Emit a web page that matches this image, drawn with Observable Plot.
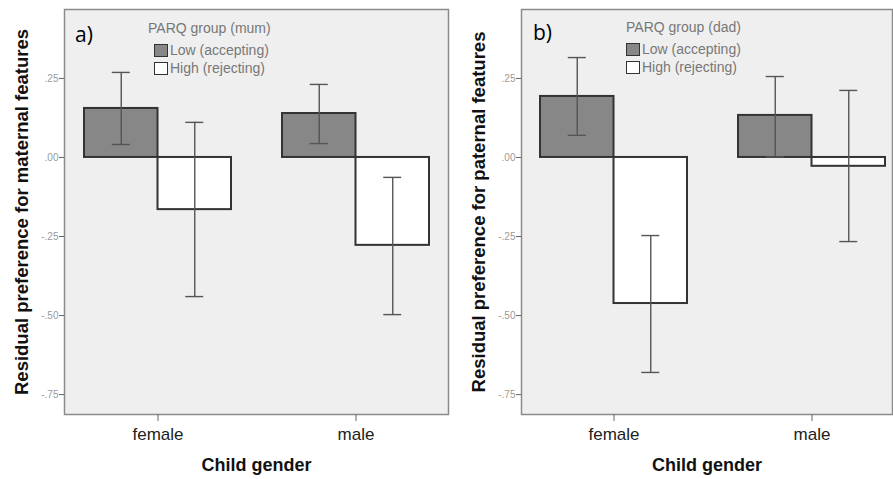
<!DOCTYPE html>
<html>
<head>
<meta charset="utf-8">
<script src="https://cdn.jsdelivr.net/npm/d3@7"></script>
<script src="https://cdn.jsdelivr.net/npm/@observablehq/plot@0.6"></script>
<style>
  html, body { margin: 0; padding: 0; background: #fff; }
  #wrap { position: relative; width: 893px; height: 479px; overflow: hidden; font-family: "Liberation Sans", Arial, sans-serif; }
  .panel { position: absolute; top: 0; }
  .tag { position: absolute; font-family: "Open Sans", sans-serif; font-size: 21px; line-height: 21px; color: #000; }
  .leg { position: absolute; font-size: 14px; color: #777; line-height: 18px; }
  .row { display: flex; align-items: center; height: 18px; }
  .sw { width: 12px; height: 11px; border: 1.5px solid #333; margin-right: 2px; box-sizing: content-box; }
</style>
</head>
<body>
<div id="wrap">
  <div id="pa" class="panel" style="left:0"></div>
  <div id="pb" class="panel" style="left:450px"></div>
</div>
<script>
// ---- data ----
const genders = ["female", "male"];
const groups = ["Low (accepting)", "High (rejecting)"];

// a) mother
const mumLowMean  = [0.155, 0.139];
const mumLowLo    = [0.041, 0.044];
const mumLowHi    = [0.269, 0.231];
const mumHighMean = [-0.165, -0.278];
const mumHighLo   = [-0.440, -0.497];
const mumHighHi   = [0.111, -0.063];

// b) father
const dadLowMean  = [0.193, 0.133];
const dadLowLo    = [0.070, 0.002];
const dadLowHi    = [0.316, 0.256];
const dadHighMean = [-0.462, -0.028];
const dadHighLo   = [-0.680, -0.266];
const dadHighHi   = [-0.247, 0.212];

const yTicks = [-0.75, -0.5, -0.25, 0, 0.25];
const fmt = v => (v < 0 ? "-" : "") + d3.format(".2f")(Math.abs(v)).replace(/^0/, "");

function rows(mean, lo, hi) {
  return genders.map((g, i) => ({gender: g, mean: mean[i], lo: lo[i], hi: hi[i]}));
}

const BW = 147;      // band width in px (two bars)
const STEP = 198;    // distance between gender centres
const CAP = 9;       // half cap width

function panel({width, marginLeft, marginRight, marginTop, align, low, high, ylabel}) {
  const W = width - marginLeft - marginRight;
  const pi = 1 - BW / STEP;
  const po = (W / STEP - (2 - pi)) / 2;
  const errStyle = {stroke: "#555", strokeWidth: 1.4};
  return Plot.plot({
    width, height: 479,
    marginLeft, marginRight, marginTop, marginBottom: 65,
    style: {fontFamily: "'Liberation Sans', Arial, sans-serif", background: "transparent", overflow: "visible"},
    x: {type: "band", domain: genders, paddingInner: pi, paddingOuter: po, align},
    y: {domain: [-0.813, 0.468]},
    marks: [
      Plot.frame({fill: "#efefef"}),
      Plot.barY(low, {x: "gender", y: "mean", insetRight: BW / 2, fill: "#878787", stroke: "#333", strokeWidth: 2}),
      Plot.barY(high, {x: "gender", y: "mean", insetLeft: BW / 2, fill: "#ffffff", stroke: "#333", strokeWidth: 2}),
      Plot.ruleX(low, {x: "gender", y1: "lo", y2: "hi", dx: -BW / 4, ...errStyle}),
      Plot.ruleX(high, {x: "gender", y1: "lo", y2: "hi", dx: BW / 4, ...errStyle}),
      Plot.tickY(low, {x: "gender", y: "hi", insetLeft: BW / 4 - CAP, insetRight: 3 * BW / 4 - CAP, ...errStyle}),
      Plot.tickY(low, {x: "gender", y: "lo", insetLeft: BW / 4 - CAP, insetRight: 3 * BW / 4 - CAP, ...errStyle}),
      Plot.tickY(high, {x: "gender", y: "hi", insetLeft: 3 * BW / 4 - CAP, insetRight: BW / 4 - CAP, ...errStyle}),
      Plot.tickY(high, {x: "gender", y: "lo", insetLeft: 3 * BW / 4 - CAP, insetRight: BW / 4 - CAP, ...errStyle}),
      Plot.frame({stroke: "#8a8a8a", strokeWidth: 1.5}),
      Plot.axisY({ticks: yTicks, tickFormat: fmt, tickSize: 5, tickPadding: 1, fontSize: 10, fill: "#9a9a9a", stroke: "#666", label: null}),
      Plot.axisY({ticks: [], label: ylabel, labelAnchor: "center", labelOffset: 50, labelArrow: "none", fontSize: 18.5, fontWeight: "bold", fill: "#111"}),
      Plot.axisX({tickSize: 7, tickPadding: 6, fontSize: 17, fill: "#222", stroke: "#666", label: null}),
      Plot.axisX({ticks: [], label: "Child gender", labelAnchor: "center", labelOffset: 56, labelArrow: "none", fontSize: 18, fontWeight: "bold", fill: "#111"})
    ]
  });
}

document.getElementById("pa").append(panel({
  width: 450, marginLeft: 64, marginRight: 2, marginTop: 9, align: 0.5,
  low: rows(mumLowMean, mumLowLo, mumLowHi),
  high: rows(mumHighMean, mumHighLo, mumHighHi),
  ylabel: "Residual preference for maternal features"
}));
document.getElementById("pb").append(panel({
  width: 443, marginLeft: 71, marginRight: 1, marginTop: 9, align: 0.73,
  low: rows(dadLowMean, dadLowLo, dadLowHi),
  high: rows(dadHighMean, dadHighLo, dadHighHi),
  ylabel: "Residual preference for paternal features"
}));

// panel tags and legends
const wrap = document.getElementById("wrap");
function addTag(text, left, top) {
  const d = document.createElement("div");
  d.className = "tag"; d.textContent = text;
  d.style.left = left + "px"; d.style.top = top + "px";
  wrap.append(d);
}
function addLegend(title, left, top, swIndent) {
  const d = document.createElement("div");
  d.className = "leg";
  d.style.left = left + "px"; d.style.top = top + "px";
  const t = document.createElement("div"); t.textContent = title; t.style.height = "22px";
  d.append(t);
  const fills = ["#878787", "#ffffff"];
  groups.forEach((g, i) => {
    const r = document.createElement("div"); r.className = "row"; r.style.marginLeft = swIndent + "px";
    const s = document.createElement("div"); s.className = "sw"; s.style.background = fills[i];
    const l = document.createElement("span"); l.textContent = g;
    r.append(s, l); d.append(r);
  });
  wrap.append(d);
}
addTag("a)", 75, 24);
addTag("b)", 533, 22);
addLegend("PARQ group (mum)", 148, 19, 6);
addLegend("PARQ group (dad)", 626, 18, 0);
</script>
</body>
</html>
